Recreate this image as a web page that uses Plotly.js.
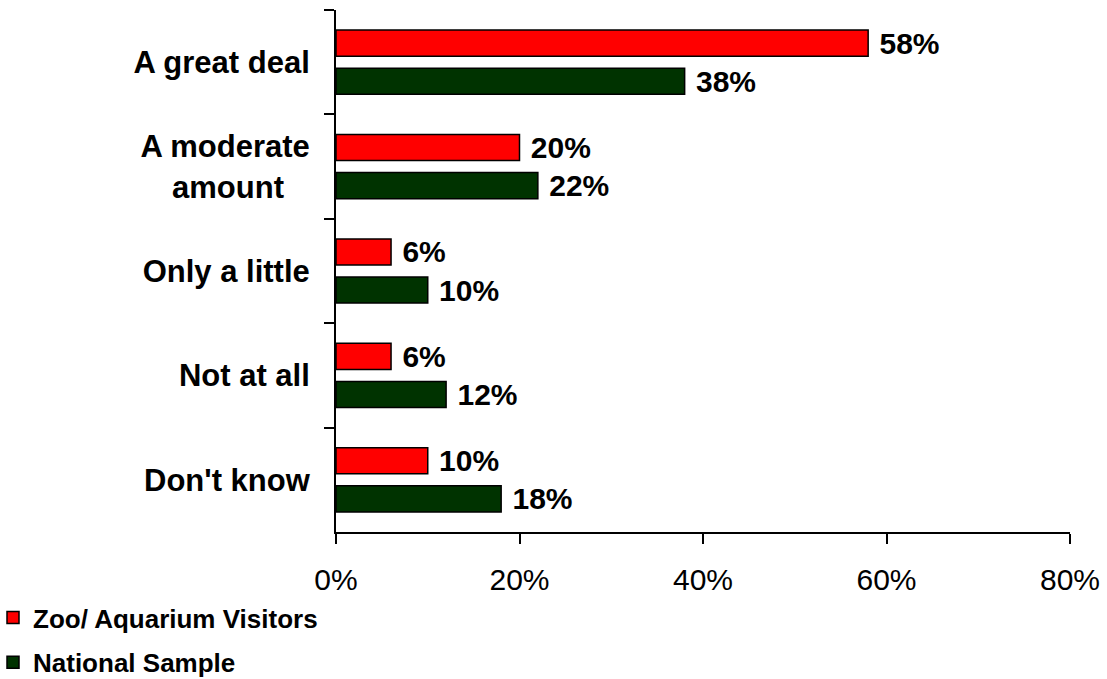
<!DOCTYPE html>
<html>
<head>
<meta charset="utf-8">
<script src="https://cdn.plot.ly/plotly-3.0.1.min.js"></script>
<style>html,body{margin:0;padding:0;background:#fff;}#chart{width:1107px;height:679px;}</style>
</head>
<body>
<div id="chart"></div>
<script>
const categories = ["A great deal", "A moderate<br>amount\u00a0\u00a0\u00a0", "Only a little", "Not at all", "Don't know"];
const seriesNames = ["Zoo/ Aquarium Visitors", "National Sample"];
const zooValues = [58, 20, 6, 6, 10];
const nationalValues = [38, 22, 10, 12, 18];
const xTickValues = [0, 20, 40, 60, 80];
const xTickLabels = ["0%", "20%", "40%", "60%", "80%"];

const FONT = "Liberation Sans, Arial, sans-serif";
const labelFont = {family: FONT, size: 30, color: "#000", weight: "bold"};
const pct = v => "\u00a0" + v + "%";

const traces = [
  {
    type: "bar", orientation: "h", name: seriesNames[0], legendgroup: "a",
    y: categories, x: zooValues,
    marker: {color: "#FF0000", line: {color: "#000", width: 1.5}},
    text: zooValues.map(pct), texttemplate: "%{text}", textposition: "outside",
    constraintext: "none", cliponaxis: false,
    textfont: labelFont, hoverinfo: "x+y"
  },
  {
    type: "bar", orientation: "h", name: seriesNames[1], legendgroup: "b",
    y: categories, x: nationalValues,
    marker: {color: "#003300", line: {color: "#000", width: 1.5}},
    text: nationalValues.map(pct), texttemplate: "%{text}", textposition: "outside",
    constraintext: "none", cliponaxis: false,
    textfont: labelFont, hoverinfo: "x+y"
  }
];

const layout = {
  width: 1107, height: 679,
  paper_bgcolor: "#fff", plot_bgcolor: "#fff",
  margin: {l: 336, r: 37, t: 10, b: 147, pad: 0, autoexpand: false},
  barmode: "group", bargap: 0.27, bargroupgap: 0.316,
  font: {family: FONT, color: "#000"},
  showlegend: true,
  legend: {
    xref: "paper", yref: "paper", x: -0.4673, xanchor: "left", y: -0.295, yanchor: "bottom",
    orientation: "v", traceorder: "grouped", tracegroupgap: 8,
    font: {family: FONT, size: 26, color: "#000", weight: "bold"},
    bgcolor: "rgba(0,0,0,0)"
  },
  xaxis: {
    range: [0, 80], tickvals: xTickValues, ticktext: xTickLabels,
    showgrid: false, zeroline: false, showline: true, linecolor: "#000", linewidth: 2,
    ticks: "outside", ticklen: 10, tickwidth: 2, tickcolor: "#000",
    ticklabelstandoff: 10,
    tickfont: {family: FONT, size: 30, color: "#000"}, fixedrange: true
  },
  yaxis: {
    type: "category", autorange: "reversed",
    showgrid: false, zeroline: false, showline: true, linecolor: "#000", linewidth: 2,
    ticks: "outside", tickson: "boundaries", ticklen: 10, tickwidth: 2, tickcolor: "#000",
    ticklabelstandoff: 18,
    tickfont: {family: FONT, size: 31, color: "#000", weight: "bold"}, fixedrange: true
  }
};

Plotly.newPlot("chart", traces, layout, {displayModeBar: false, staticPlot: true});
</script>
</body>
</html>
